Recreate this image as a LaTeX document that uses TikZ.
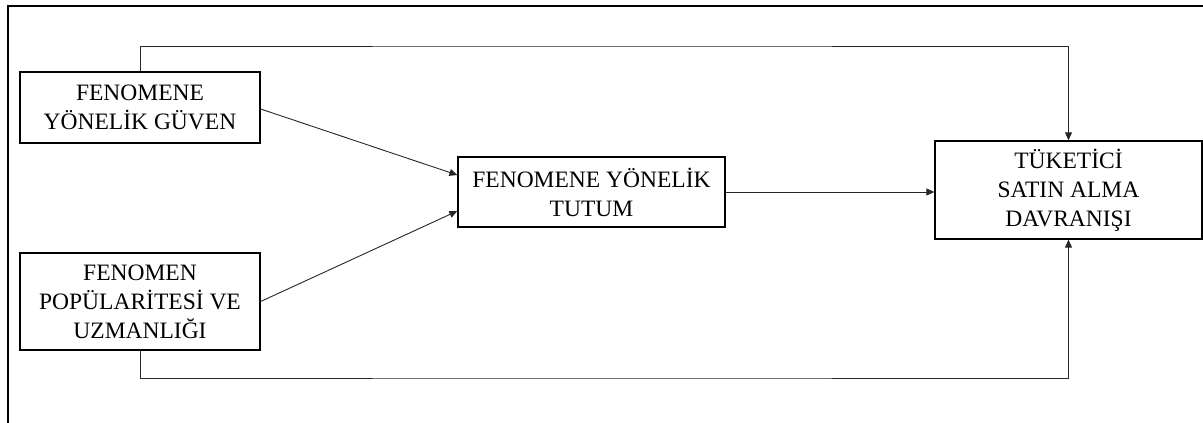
\documentclass[tikz,border=0pt]{standalone}
\usepackage{fontspec}
\setmainfont{Liberation Serif}
\usetikzlibrary{arrows.meta,calc}
\begin{document}
\begin{tikzpicture}[x=1pt,y=-1pt,
  box/.style={draw=black,line width=1.3pt,inner sep=0pt,align=center,
    font=\fontsize{23.5}{29}\selectfont},
  conn/.style={draw=black!85,line width=0.9pt},
  arr/.style={conn,-{Triangle[length=8pt,width=7pt]}},
  frame/.style={draw=black,line width=1.2pt}]
\useasboundingbox (0,0) rectangle (1203,423);
\node[box,minimum width=240pt,minimum height=71pt] (A) at (140,107.5) {FENOMENE\\YÖNELİK GÜVEN};
\node[box,minimum width=240pt,minimum height=97pt] (B) at (140,301.5) {FENOMEN\\POPÜLARİTESİ VE\\UZMANLIĞI};
\node[box,minimum width=267pt,minimum height=70pt] (C) at (591.5,192) {FENOMENE YÖNELİK\\TUTUM};
\node[box,minimum width=267pt,minimum height=98pt] (D) at (1068.5,190) {TÜKETİCİ\\SATIN ALMA\\DAVRANIŞI};
\coordinate (fa) at (8,423);
\coordinate (fb) at (8,6);
\coordinate (fc) at (1203,6);
\draw[frame] (fa) -- (fb) -- (fc);
\coordinate (top) at (600,46);
\coordinate (bot) at (600,378);
\draw[arr] (A.north) |- (top) -| (D.north);
\draw[arr] (B.south) |- (bot) -| (D.south);
\draw[arr] ([yshift=-1.5pt]A.east) -- ([yshift=17pt]C.west);
\draw[arr] (B.east) -- ([yshift=-19pt]C.west);
\draw[arr] (C.east) -- ([yshift=-2pt]D.west);
\end{tikzpicture}
\end{document}
